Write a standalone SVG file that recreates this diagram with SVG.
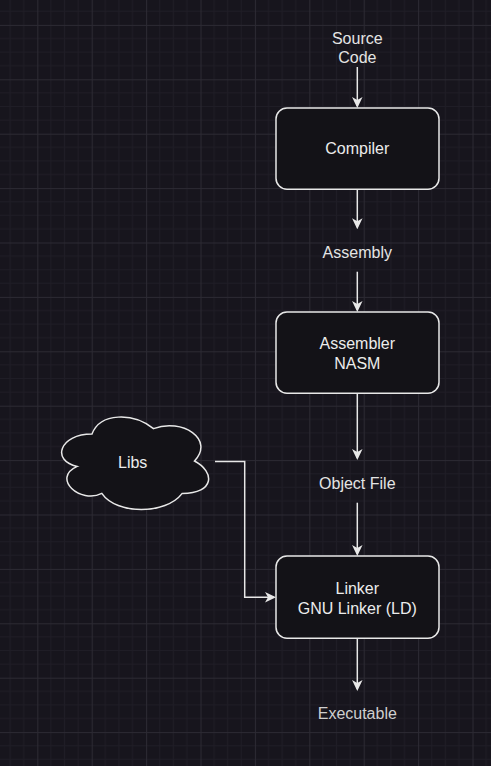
<svg xmlns="http://www.w3.org/2000/svg" width="491" height="766" viewBox="0 0 491 766">
<style>
.box{fill:#131217;stroke:#e8e8e8;stroke-width:1.5}
.cloud{fill:#131217;stroke:#e8e8e8;stroke-width:1.5}
.t{font-family:"Liberation Sans",Arial,Helvetica,sans-serif;font-size:16px;fill:#ececec;text-anchor:middle}
.lbl{fill:#e4e4e4}
.exe{fill:#cfcfcf}
.edge{fill:none;stroke:#e8e8e8;stroke-width:1.5}
</style>
<defs>
<pattern id="grid" patternUnits="userSpaceOnUse" x="37.3" y="24.9" width="54.4" height="54.4">
<path d="M13.6 0V54.4M27.2 0V54.4M40.8 0V54.4M0 13.6H54.4M0 27.2H54.4M0 40.8H54.4" stroke="#1f1d26" stroke-width="1" fill="none"/>
<path d="M0.5 0V54.4M0 0.5H54.4" stroke="#2c2a33" stroke-width="1" fill="none"/>
</pattern>
<marker id="arr" markerUnits="userSpaceOnUse" viewBox="0 0 11 10.5" refX="9" refY="5.25" markerWidth="11" markerHeight="10.5" orient="auto">
<path d="M0,0 L11,5.25 L0,10.5 L3,5.25 Z" fill="#e8e8e8"/>
</marker>
</defs>
<rect width="491" height="766" fill="#17151d"/>
<rect width="491" height="766" fill="url(#grid)"/>

<g id="connectors">
<path class="edge" d="M357.3 67V106" marker-end="url(#arr)"/>
<path class="edge" d="M357.3 189.3V227.3" marker-end="url(#arr)"/>
<path class="edge" d="M357.3 271.7V310" marker-end="url(#arr)"/>
<path class="edge" d="M357.3 393.3V458" marker-end="url(#arr)"/>
<path class="edge" d="M357.3 502.7V554" marker-end="url(#arr)"/>
<path class="edge" d="M357.3 638.3V689" marker-end="url(#arr)"/>
<path class="edge" d="M215 461.5H244.7V597.3H274" marker-end="url(#arr)"/>
</g>

<g id="source-code">
<text class="t lbl" x="357.3" y="44">Source</text>
<text class="t lbl" x="357.3" y="63">Code</text>
</g>

<g id="compiler">
<rect class="box" x="276" y="108" width="163" height="81.3" rx="11"/>
<text class="t" x="357.3" y="153.5">Compiler</text>
</g>

<g id="assembly">
<text class="t lbl" x="357.3" y="257.5">Assembly</text>
</g>

<g id="assembler">
<rect class="box" x="276" y="312" width="163" height="81.3" rx="11"/>
<text class="t" x="357.3" y="349">Assembler</text>
<text class="t" x="357.3" y="368.5">NASM</text>
</g>

<g id="object-file">
<text class="t lbl" x="357.3" y="488.5">Object File</text>
</g>

<g id="libs">
<path class="cloud" d="M92 434C59.2 434 51 461 77.2 466.4C51 478.3 80.5 504.2 101.8 493.4C116.6 515 165.8 515 182.2 493.4C215 493.4 215 471.8 194.5 461C215 439.4 182.2 417.8 153.5 428.6C133 412.4 100.2 412.4 92 434Z"/>
<text class="t" x="132.7" y="467.5">Libs</text>
</g>

<g id="linker">
<rect class="box" x="276" y="556" width="163" height="82.3" rx="11"/>
<text class="t" x="357.3" y="594">Linker</text>
<text class="t" x="357.3" y="613.5">GNU Linker (LD)</text>
</g>

<g id="executable">
<text class="t exe" x="357.3" y="718.5">Executable</text>
</g>
</svg>
